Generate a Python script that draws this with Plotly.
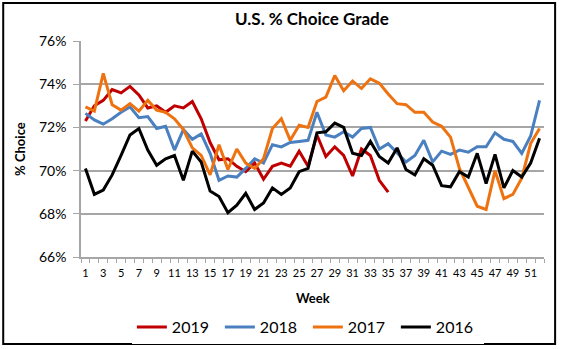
import plotly.graph_objects as go

# Weekly share of cattle graded Choice, by year (percent)
weeks = list(range(1, 53))
week_labels = [str(w) for w in range(1, 53, 2)]

y2019 = [72.3, 73.0, 73.25, 73.75, 73.6, 73.9, 73.5, 72.9, 73.0, 72.7,
         73.0, 72.9, 73.2, 72.4, 71.3, 70.5, 70.55, 70.2, 69.95, 70.35,
         69.6, 70.2, 70.35, 70.2, 70.9, 70.2, 71.65, 70.65, 71.1, 70.7,
         69.75, 71.0, 70.7, 69.55, 69.0]

y2018 = [72.65, 72.35, 72.15, 72.4, 72.7, 72.95, 72.45, 72.5, 71.95, 72.05,
         70.95, 71.9, 71.45, 71.7, 70.8, 69.55, 69.75, 69.7, 70.1, 70.55,
         70.35, 71.2, 71.1, 71.3, 71.35, 71.4, 72.7, 71.65, 71.55, 71.8,
         71.55, 71.95, 72.0, 71.0, 71.25, 70.8, 70.4, 70.7, 71.4, 70.4,
         70.9, 70.75, 70.95, 70.85, 71.1, 71.1, 71.75, 71.45, 71.35, 70.8,
         71.6, 73.25]

y2017 = [72.95, 72.75, 74.5, 73.05, 72.8, 73.1, 72.75, 73.25, 72.8, 72.7,
         72.4, 71.9, 71.05, 70.7, 69.8, 71.2, 70.05, 71.0, 70.35, 70.1,
         70.55, 71.95, 72.4, 71.4, 72.1, 72.0, 73.2, 73.4, 74.4, 73.7,
         74.15, 73.8, 74.25, 74.05, 73.55, 73.1, 73.05, 72.7, 72.7, 72.25,
         72.05, 71.55, 70.1, 69.2, 68.35, 68.2, 70.0, 68.7, 68.9, 69.65,
         71.25, 71.95]

y2016 = [70.1, 68.9, 69.1, 69.8, 70.7, 71.65, 71.95, 70.95, 70.25, 70.55,
         70.7, 69.55, 70.9, 70.4, 69.05, 68.8, 68.05, 68.4, 68.95, 68.2,
         68.5, 69.2, 68.9, 69.2, 69.95, 70.1, 71.75, 71.8, 72.2, 72.0,
         70.8, 70.7, 71.35, 70.65, 70.35, 71.05, 70.05, 69.8, 70.55, 70.25,
         69.3, 69.25, 69.95, 69.7, 70.8, 69.4, 70.75, 69.2, 70.0, 69.7,
         70.35, 71.5]

series = [
    ("2019", y2019, "#C00000"),
    ("2018", y2018, "#4A80C0"),
    ("2017", y2017, "#EE7310"),
    ("2016", y2016, "#000000"),
]

FONT = "Lato, Calibri, sans-serif"
GRID = "#A6A6A6"

fig = go.Figure()
for name, vals, color in series:
    fig.add_trace(go.Scatter(
        x=weeks[:len(vals)], y=vals, name=name, mode="lines",
        line=dict(color=color, width=3),
    ))

fig.update_layout(
    width=562, height=349,
    margin=dict(l=81, r=18, t=41, b=92, autoexpand=False),
    paper_bgcolor="white", plot_bgcolor="white",
    font=dict(family=FONT, color="#000000"),
    title=dict(text="<b>U.S. % Choice Grade</b>", x=0.555, xanchor="center",
               y=0.945, yanchor="middle", font=dict(size=17)),
    legend=dict(orientation="h", x=0.49, xanchor="center",
                yref="container", y=0.063, yanchor="middle",
                font=dict(size=16), itemwidth=30, entrywidth=43,
                traceorder="normal"),
    showlegend=True,
)

fig.update_xaxes(
    range=[0.5, 52.5], tickmode="array", tickvals=list(range(1, 53, 2)),
    ticktext=week_labels, ticks="", showgrid=False,
    showline=True, linecolor=GRID, linewidth=1.5,
    tickfont=dict(size=11), ticklabelstandoff=5, zeroline=False,
    minor=dict(tick0=0.5, dtick=1, ticks="outside", ticklen=4,
               tickcolor=GRID, tickwidth=1, showgrid=False),
)
fig.update_yaxes(
    range=[66, 76], dtick=2, ticksuffix="%", showgrid=True, gridcolor=GRID,
    gridwidth=1.5, showline=True, linecolor=GRID, linewidth=1.5,
    ticks="outside", ticklen=6, tickcolor=GRID, tickfont=dict(size=14),
    ticklabelstandoff=4, zeroline=False,
)

fig.add_annotation(text="<b>Week</b>", xref="paper", yref="paper",
                   x=0.5, y=-0.19, showarrow=False, font=dict(size=13),
                   xanchor="center", yanchor="middle")
fig.add_annotation(text="<b>% Choice</b>", xref="paper", yref="paper",
                   x=-0.132, y=0.5, showarrow=False, font=dict(size=13),
                   textangle=-90, xanchor="center", yanchor="middle")

# Outer chart frame
fig.add_shape(type="rect", xref="paper", yref="paper",
              x0=-0.168, x1=1.024, y0=-0.403, y1=1.176,
              line=dict(color="#000000", width=2), fillcolor="rgba(0,0,0,0)",
              layer="above")

fig.write_html("out.html")
